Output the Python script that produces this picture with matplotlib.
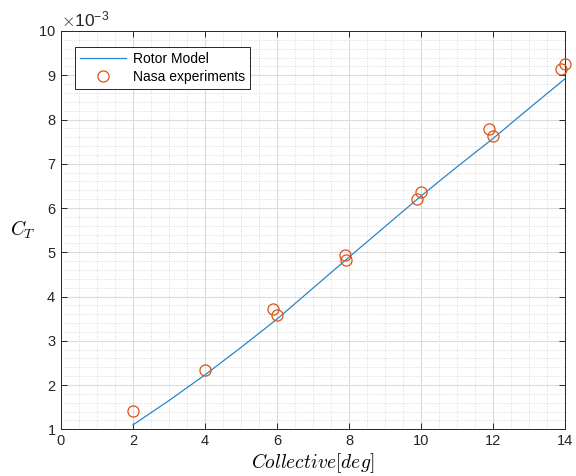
import numpy as np
import matplotlib.pyplot as plt
from matplotlib.ticker import MultipleLocator, ScalarFormatter

# model curve (collective in deg, thrust coefficient)
model_theta = [2, 3, 4, 5, 6, 7, 8, 9, 10, 11, 12, 13, 14]
model_ct = [1.10e-3, 1.65e-3, 2.23e-3, 2.85e-3, 3.49e-3, 4.19e-3, 4.89e-3,
            5.58e-3, 6.27e-3, 6.93e-3, 7.57e-3, 8.25e-3, 8.92e-3]

# NASA experimental points
exp_theta = [2, 4, 5.9, 6, 7.9, 7.92, 9.9, 10, 11.9, 12, 13.9, 14]
exp_ct = [1.41e-3, 2.34e-3, 3.72e-3, 3.58e-3, 4.94e-3, 4.83e-3,
          6.20e-3, 6.36e-3, 7.79e-3, 7.62e-3, 9.13e-3, 9.25e-3]

plt.rcParams['font.family'] = ['Liberation Sans', 'DejaVu Sans']
plt.rcParams['mathtext.fontset'] = 'cm'

fig = plt.figure(figsize=(5.76, 4.76), dpi=100)
ax = fig.add_axes([0.1059, 0.0981, 0.8750, 0.8368])

ax.plot(model_theta, model_ct, color='#2a86c8', lw=0.9, label='Rotor Model')
ax.plot(exp_theta, exp_ct, 'o', mfc='none', mec='#D95319', ms=8, mew=0.9,
        label='Nasa experiments', clip_on=False, zorder=5)

ax.set_xlim(0, 14)
ax.set_ylim(1e-3, 10e-3)
ax.xaxis.set_major_locator(MultipleLocator(2))
ax.xaxis.set_minor_locator(MultipleLocator(0.5))
ax.yaxis.set_major_locator(MultipleLocator(1e-3))
ax.yaxis.set_minor_locator(MultipleLocator(0.2e-3))

fmt = ScalarFormatter(useMathText=True)
fmt.set_powerlimits((-3, -3))
ax.yaxis.set_major_formatter(fmt)
ax.yaxis.get_offset_text().set_fontsize(12.5)
ax.yaxis.get_offset_text().set_color('#262626')

ax.grid(which='major', color='#dcdcdc', lw=0.8)
ax.grid(which='minor', color='#cfcfcf', lw=0.6, ls=(0, (1, 2)))
ax.set_axisbelow(True)

ax.tick_params(which='both', direction='in', top=True, right=True,
               colors='#262626', labelsize=10.5)
ax.tick_params(which='minor', length=0)
ax.tick_params(which='major', length=4, width=0.7)
for s in ax.spines.values():
    s.set_color('#262626')
    s.set_linewidth(0.7)

ax.set_xlabel('$Collective[deg]$', fontsize=14, labelpad=2)
ax.set_ylabel('$C_T$', fontsize=14, rotation=0, va='center', ha='center')
ax.yaxis.set_label_coords(-0.075, 0.5)

leg = ax.legend(loc='upper left', bbox_to_anchor=(0.028, 0.96), borderaxespad=0,
                fancybox=False, framealpha=1, edgecolor='#262626', fontsize=10,
                handlelength=3.3, handletextpad=0.5, borderpad=0.35,
                labelspacing=0.3)
leg.get_frame().set_linewidth(0.7)

fig.savefig('out.png', dpi=100)
